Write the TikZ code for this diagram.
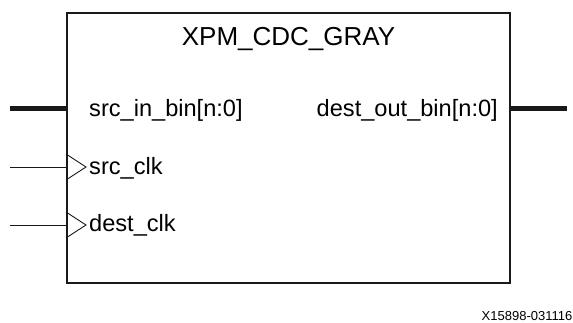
\documentclass[tikz,border=0pt]{standalone}
\usepackage{fontspec}
\setmainfont{Liberation Sans}
\usetikzlibrary{positioning}
\definecolor{ln}{RGB}{25,25,25}

\begin{document}
\begin{tikzpicture}[x=1pt,y=1pt,
  blkbox/.style={draw=ln,line width=2pt,minimum width=443pt,minimum height=270pt,inner sep=0pt},
  bus/.style={draw=ln,line width=5pt},
  clkline/.style={draw=ln,line width=0.9pt},
  portlbl/.style={inner sep=0pt,font=\fontsize{23.6}{26}\selectfont},
]
\useasboundingbox (0,0) rectangle (573,323);

%%% The block
\node[blkbox] (blk) at (288.5,175) {};
\node[inner sep=0pt,font=\fontsize{26}{30}\selectfont,anchor=base] (title) at (288.5,277) {XPM\_CDC\_GRAY};

%%% Port labels
\node[portlbl,anchor=base west] (srcin) at (89,206.3) {src\_in\_bin[n:0]};
\node[portlbl,anchor=base east] (destout) at (498,206.3) {dest\_out\_bin[n:0]};
\node[portlbl,anchor=base west] (srcclk) at (89,148) {src\_clk};
\node[portlbl,anchor=base west] (destclk) at (89,91.3) {dest\_clk};

%%% Wire ends
\coordinate (busin) at (10,214);
\coordinate (busout) at (567,214);
\coordinate (srcclkin) at (10,156);
\coordinate (destclkin) at (10,98);

%%% Buses
\draw[bus] (busin) -- (busin -| blk.west);
\draw[bus] (busout -| blk.east) -- (busout);

%%% Clocks
\draw[clkline] (srcclkin) -- (srcclkin -| blk.west);
\draw[clkline] (destclkin) -- (destclkin -| blk.west);
\draw[clkline] ([yshift=13pt]srcclkin -| blk.west) -- ++(20,-13) -- ++(-20,-13);
\draw[clkline] ([yshift=13pt]destclkin -| blk.west) -- ++(20,-13) -- ++(-20,-13);

%%% Figure number
\node[inner sep=0pt,font=\fontsize{13}{15}\selectfont,anchor=base east] (fignum) at (572.5,2.5) {X15898-031116};
\end{tikzpicture}
\end{document}
